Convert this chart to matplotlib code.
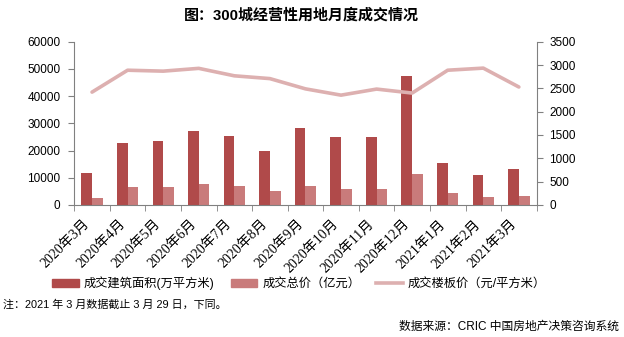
import matplotlib
matplotlib.use("Agg")
import matplotlib.pyplot as plt
import numpy as np
from matplotlib.patches import Patch
from matplotlib.lines import Line2D

plt.rcParams['font.family'] = ['Liberation Sans', 'Noto Sans CJK SC']

months = ["2020年3月", "2020年4月", "2020年5月", "2020年6月", "2020年7月", "2020年8月",
          "2020年9月", "2020年10月", "2020年11月", "2020年12月", "2021年1月", "2021年2月", "2021年3月"]
area = [11650, 22800, 23500, 27200, 25400, 19800, 28300, 25000, 25000, 47400, 15400, 11000, 13200]
total = [2570, 6610, 6610, 7720, 6980, 5140, 6980, 5880, 5880, 11390, 4410, 2940, 3310]
floor_price = [2420, 2890, 2870, 2930, 2770, 2710, 2490, 2355, 2485, 2400, 2890, 2935, 2530]

c_area = "#B04A4A"
c_total = "#C97B7B"
c_line = "#DDB0B0"
gray = "#808080"

fig = plt.figure(figsize=(6.24, 3.37), dpi=100)
ax = fig.add_axes([0.119, 0.392, 0.741, 0.484])
ax2 = ax.twinx()

x = np.arange(len(months))
w = 0.3
ax.bar(x - w / 2, area, width=w, color=c_area, zorder=2)
ax.bar(x + w / 2, total, width=w, color=c_total, zorder=2)
ax2.plot(x, floor_price, color=c_line, lw=2.6, solid_capstyle='round', zorder=3)

ax.set_xlim(-0.5, len(months) - 0.5)
ax.set_ylim(0, 60000)
ax.set_yticks(np.arange(0, 60001, 10000))
ax2.set_ylim(0, 3500)
ax2.set_yticks(np.arange(0, 3501, 500))

ax.set_xticks(x)
ax.set_xticklabels(months, rotation=45, ha='right', rotation_mode='default',
                   family=['Liberation Serif', 'Noto Sans CJK SC'], fontsize=10)
ax.set_xticks(np.arange(-0.5, len(months), 1), minor=True)
ax.tick_params(axis='x', which='major', length=0, pad=9)
ax.tick_params(axis='x', which='minor', length=4, color=gray, direction='out')

for a in (ax, ax2):
    for s in a.spines.values():
        s.set_visible(False)
    a.tick_params(axis='y', length=4, color=gray, labelsize=8.5, direction='out')
ax.tick_params(axis='y', pad=6)
ax2.tick_params(axis='y', pad=5)
ax.spines['left'].set_visible(True)
ax.spines['left'].set_color(gray)
ax.spines['bottom'].set_visible(True)
ax.spines['bottom'].set_color(gray)
ax2.spines['right'].set_visible(True)
ax2.spines['right'].set_color(gray)
ax.set_zorder(ax2.get_zorder() - 1)
ax.patch.set_visible(False)
ax2.set_zorder(1)

fig.text(0.483, 0.955, "图：300城经营性用地月度成交情况", ha='center', va='center',
         fontsize=10.8, fontweight='bold')

handles = [Patch(color=c_area), Patch(color=c_total), Line2D([0], [0], color=c_line, lw=2.6)]
labels = ["成交建筑面积(万平方米)", "成交总价（亿元）", "成交楼板价（元/平方米）"]
fig.legend(handles, labels, loc='center left', bbox_to_anchor=(0.066, 0.16), ncol=3, frameon=False,
           fontsize=8.8, handlelength=2.2, handleheight=0.6, columnspacing=1.3, handletextpad=0.4)

fig.text(0.005, 0.097, "注：2021 年 3 月数据截止 3 月 29 日，下同。", ha='left', va='center', fontsize=7.9)
fig.text(0.992, 0.03, "数据来源：CRIC 中国房地产决策咨询系统", ha='right', va='center', fontsize=8.5)

fig.savefig("out.png", dpi=100)
